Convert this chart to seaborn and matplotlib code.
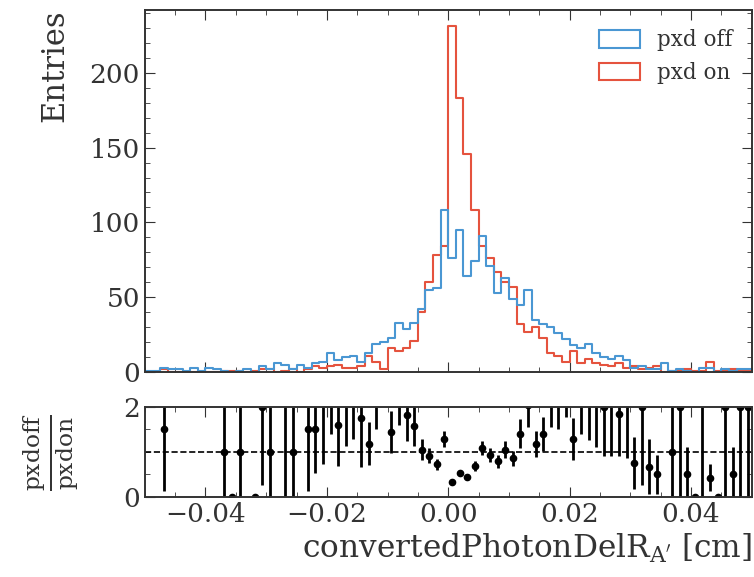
import numpy as np
import pandas as pd
import matplotlib
matplotlib.use("Agg")
import matplotlib.pyplot as plt
import seaborn as sns
from matplotlib.patches import Patch
from matplotlib.ticker import MultipleLocator

# 80 bins from -0.05 to 0.05 cm
bin_edges = np.linspace(-0.05, 0.05, 81)

pxd_off = [1, 1, 3, 2, 2, 1, 3, 1, 3, 2,
           1, 0, 1, 2, 0, 4, 2, 6, 5, 2,
           5, 3, 6, 7, 13, 8, 10, 11, 7, 13,
           19, 20, 23, 33, 29, 33, 42, 55, 56, 108,
           76, 95, 64, 74, 91, 71, 53, 63, 49, 45,
           55, 35, 32, 30, 26, 22, 18, 16, 19, 13,
           10, 9, 11, 8, 3, 4, 2, 2, 6, 1,
           2, 1, 0, 3, 3, 0, 2, 1, 2, 2]
pxd_on = [0, 0, 2, 0, 0, 0, 0, 0, 0, 0,
          1, 1, 1, 0, 1, 2, 2, 0, 1, 2,
          0, 2, 4, 3, 4, 5, 3, 3, 4, 11,
          7, 2, 16, 14, 16, 21, 40, 60, 78, 84,
          231, 183, 146, 108, 84, 76, 67, 60, 57, 32,
          27, 30, 23, 13, 11, 7, 14, 6, 9, 6,
          5, 4, 6, 3, 4, 2, 3, 4, 0, 1,
          1, 2, 1, 1, 7, 1, 1, 2, 1, 1]

labels = ["pxd off", "pxd on"]
colors = ["#4a97d3", "#e5533e"]

centers = 0.5 * (bin_edges[:-1] + bin_edges[1:])
df = pd.DataFrame({
    "x": np.concatenate([centers, centers]),
    "n": pxd_off + pxd_on,
    "sample": [labels[0]] * len(centers) + [labels[1]] * len(centers),
})

sns.set_style("ticks")
plt.rcParams["font.family"] = ["DejaVu Serif"]
plt.rcParams["mathtext.fontset"] = "dejavuserif"
plt.rcParams.update({
    "xtick.direction": "in", "ytick.direction": "in",
    "xtick.top": True, "ytick.right": True,
    "xtick.major.size": 7, "ytick.major.size": 7,
    "xtick.minor.size": 3.5, "ytick.minor.size": 3.5,
    "axes.linewidth": 1.4, "axes.edgecolor": "#333333",
})

fig = plt.figure(figsize=(7.54, 5.77), dpi=100)
ax = fig.add_axes([0.192, 0.355, 0.805, 0.628])
rax = fig.add_axes([0.192, 0.139, 0.805, 0.156], sharex=ax)

sns.histplot(data=df, x="x", weights="n", hue="sample", bins=list(bin_edges),
             element="step", fill=False, palette=dict(zip(labels, colors)),
             linewidth=1.5, legend=False, ax=ax)
ax.set_xlim(-0.05, 0.05)
ax.set_ylim(0, 242)
ax.yaxis.set_major_locator(MultipleLocator(50))
ax.yaxis.set_minor_locator(MultipleLocator(10))
ax.xaxis.set_major_locator(MultipleLocator(0.02))
ax.xaxis.set_minor_locator(MultipleLocator(0.005))
ax.tick_params(which="both", top=True, right=True, labelsize=19, colors="#333333")
ax.tick_params(axis="x", labelbottom=False)
ax.set_xlabel("")
ax.set_ylabel("Entries", fontsize=22, loc="top", color="#333333", labelpad=14)
handles = [Patch(facecolor="none", edgecolor=c, linewidth=1.5) for c in colors]
ax.legend(handles, labels, loc="upper right", frameon=False, fontsize=15.5,
          handlelength=1.9, handleheight=0.9, borderaxespad=0.5,
          labelcolor="#333333")

# ratio panel
off = np.array(pxd_off, dtype=float)
on = np.array(pxd_on, dtype=float)
mask = on > 0
ratio = off[mask] / on[mask]
err = np.where(off[mask] > 0,
               ratio * np.sqrt(1 / np.maximum(off[mask], 1) + 1 / on[mask]), 0)
rax.errorbar(centers[mask], ratio, yerr=err, fmt="o", color="black",
             markersize=4.5, elinewidth=2, capsize=0)
rax.axhline(1, color="black", linestyle="--", linewidth=1.2)
rax.set_ylim(0, 2)
rax.set_yticks([0, 2])
rax.yaxis.set_minor_locator(MultipleLocator(0.5))
rax.tick_params(which="both", top=True, right=True, labelsize=19, colors="#333333")
rax.set_ylabel(r"$\frac{\mathrm{pxdoff}}{\mathrm{pxdon}}$", fontsize=24,
               color="#333333", labelpad=30)
rax.set_xlabel(r"convertedPhotonDelR$_{\mathrm{A}^{\prime}}$ [cm]",
               fontsize=22.5, loc="right", color="#333333")

fig.savefig("out.png", dpi=100)
